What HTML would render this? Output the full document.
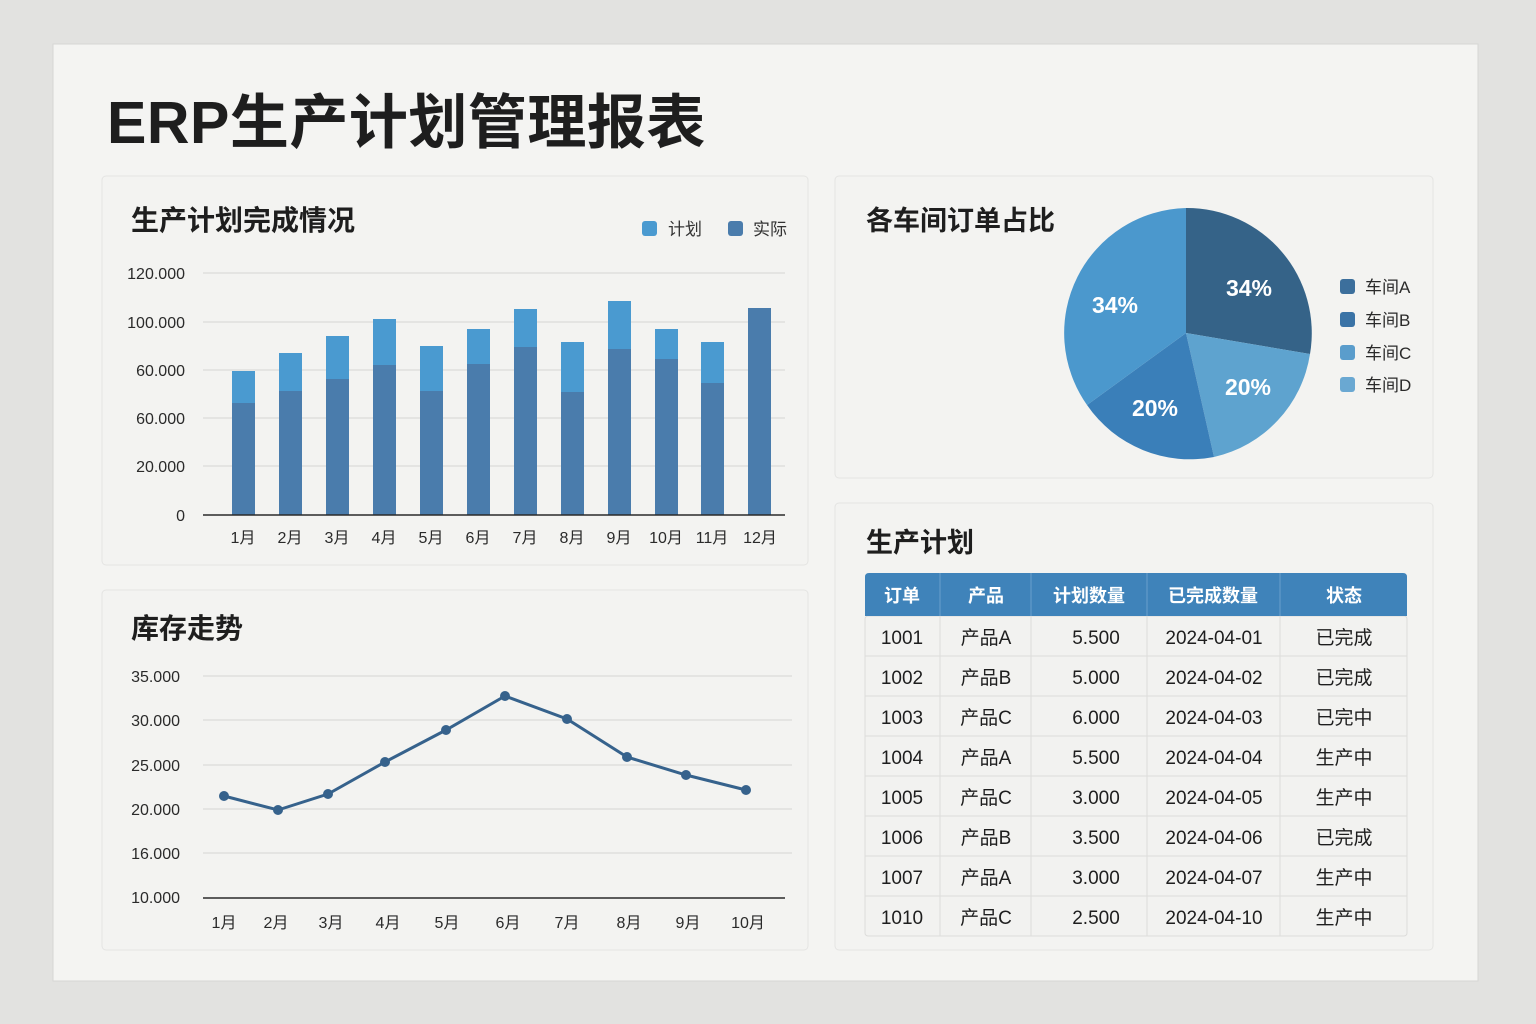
<!DOCTYPE html>
<html><head><meta charset="utf-8"><style>
html,body{margin:0;padding:0;background:#e2e2e0;}
svg{display:block;font-family:"Liberation Sans","Noto Sans CJK SC",sans-serif;}
</style></head><body>
<svg width="1536" height="1024" viewBox="0 0 1536 1024" xmlns="http://www.w3.org/2000/svg">
<rect x="0" y="0" width="1536" height="1024" fill="#e2e2e0"/>
<rect x="53" y="44" width="1425" height="937" fill="#f4f4f2" stroke="#d6d6d4"/>
<text x="107" y="143" font-size="59" font-weight="bold" fill="#1e1e1e" letter-spacing="0.5">ERP生产计划管理报表</text>

<!-- panels -->
<rect x="102" y="176" width="706" height="389" rx="4" fill="#f3f3f1" stroke="#e4e4e2"/>
<rect x="102" y="590" width="706" height="360" rx="4" fill="#f3f3f1" stroke="#e4e4e2"/>
<rect x="835" y="176" width="598" height="302" rx="4" fill="#f3f3f1" stroke="#e4e4e2"/>
<rect x="835" y="503" width="598" height="447" rx="4" fill="#f3f3f1" stroke="#e4e4e2"/>

<!-- bar chart -->
<text x="131" y="230" font-size="28" font-weight="bold" fill="#1e1e1e">生产计划完成情况</text>
<rect x="642" y="221" width="15" height="15" rx="3" fill="#4a9ad0"/>
<text x="668" y="235" font-size="17" fill="#333">计划</text>
<rect x="728" y="221" width="15" height="15" rx="3" fill="#4a7cac"/>
<text x="753" y="235" font-size="17" fill="#333">实际</text>
<g stroke="#e0e0de" stroke-width="1.5">
<line x1="203" y1="273" x2="785" y2="273"/><line x1="203" y1="322" x2="785" y2="322"/>
<line x1="203" y1="370" x2="785" y2="370"/><line x1="203" y1="418" x2="785" y2="418"/>
<line x1="203" y1="466" x2="785" y2="466"/>
</g>
<g font-size="16" fill="#2a2a2a" text-anchor="end">
<text x="185" y="279">120.000</text><text x="185" y="328">100.000</text>
<text x="185" y="376">60.000</text><text x="185" y="424">60.000</text>
<text x="185" y="472">20.000</text><text x="185" y="521">0</text>
</g>
<g fill="#4a9ad0">
<rect x="232" y="371" width="23" height="144"/><rect x="279" y="353" width="23" height="162"/>
<rect x="326" y="336" width="23" height="179"/><rect x="373" y="319" width="23" height="196"/>
<rect x="420" y="346" width="23" height="169"/><rect x="467" y="329" width="23" height="186"/>
<rect x="514" y="309" width="23" height="206"/><rect x="561" y="342" width="23" height="173"/>
<rect x="608" y="301" width="23" height="214"/><rect x="655" y="329" width="23" height="186"/>
<rect x="701" y="342" width="23" height="173"/>
</g>
<g fill="#4a7cac">
<rect x="232" y="403" width="23" height="112"/><rect x="279" y="391" width="23" height="124"/>
<rect x="326" y="379" width="23" height="136"/><rect x="373" y="365" width="23" height="150"/>
<rect x="420" y="391" width="23" height="124"/><rect x="467" y="364" width="23" height="151"/>
<rect x="514" y="347" width="23" height="168"/><rect x="561" y="392" width="23" height="123"/>
<rect x="608" y="349" width="23" height="166"/><rect x="655" y="359" width="23" height="156"/>
<rect x="701" y="383" width="23" height="132"/><rect x="748" y="308" width="23" height="207"/>
</g>
<line x1="203" y1="515" x2="785" y2="515" stroke="#2a2a2a" stroke-width="1.5"/>
<g font-size="16" fill="#2a2a2a" text-anchor="middle">
<text x="243" y="543">1月</text><text x="290" y="543">2月</text><text x="337" y="543">3月</text>
<text x="384" y="543">4月</text><text x="431" y="543">5月</text><text x="478" y="543">6月</text>
<text x="525" y="543">7月</text><text x="572" y="543">8月</text><text x="619" y="543">9月</text>
<text x="666" y="543">10月</text><text x="712" y="543">11月</text><text x="760" y="543">12月</text>
</g>

<!-- line chart -->
<text x="131" y="638" font-size="28" font-weight="bold" fill="#1e1e1e">库存走势</text>
<g stroke="#e0e0de" stroke-width="1.5">
<line x1="203" y1="676" x2="792" y2="676"/><line x1="203" y1="720" x2="792" y2="720"/>
<line x1="203" y1="765" x2="792" y2="765"/><line x1="203" y1="809" x2="792" y2="809"/>
<line x1="203" y1="853" x2="792" y2="853"/>
</g>
<line x1="203" y1="898" x2="785" y2="898" stroke="#2a2a2a" stroke-width="1.5"/>
<g font-size="16" fill="#2a2a2a" text-anchor="end">
<text x="180" y="682">35.000</text><text x="180" y="726">30.000</text>
<text x="180" y="771">25.000</text><text x="180" y="815">20.000</text>
<text x="180" y="859">16.000</text><text x="180" y="903">10.000</text>
</g>
<polyline points="224,796 278,810 328,794 385,762 446,730 505,696 567,719 627,757 686,775 746,790" fill="none" stroke="#36628c" stroke-width="3"/>
<g fill="#36628c">
<circle cx="224" cy="796" r="5"/><circle cx="278" cy="810" r="5"/><circle cx="328" cy="794" r="5"/>
<circle cx="385" cy="762" r="5"/><circle cx="446" cy="730" r="5"/><circle cx="505" cy="696" r="5"/>
<circle cx="567" cy="719" r="5"/><circle cx="627" cy="757" r="5"/><circle cx="686" cy="775" r="5"/>
<circle cx="746" cy="790" r="5"/>
</g>
<g font-size="16" fill="#2a2a2a" text-anchor="middle">
<text x="224" y="928">1月</text><text x="276" y="928">2月</text><text x="331" y="928">3月</text>
<text x="388" y="928">4月</text><text x="447" y="928">5月</text><text x="508" y="928">6月</text>
<text x="567" y="928">7月</text><text x="629" y="928">8月</text><text x="688" y="928">9月</text>
<text x="748" y="928">10月</text>
</g>

<!-- pie -->
<text x="866" y="230" font-size="27" font-weight="bold" fill="#1e1e1e">各车间订单占比</text>
<path d="M1186,333 L1186,208 A125,125 0 0,1 1310,354 Z" fill="#356388"/>
<path d="M1186,333 L1310,354 A125,125 0 0,1 1214,457 Z" fill="#5ea3cf"/>
<path d="M1186,333 L1214,457 A125,125 0 0,1 1087,405 Z" fill="#3a7fb9"/>
<path d="M1186,333 L1087,405 A125,125 0 0,1 1186,208 Z" fill="#4b98cd"/>
<g font-size="23" font-weight="bold" fill="#fff" text-anchor="middle">
<text x="1249" y="296">34%</text><text x="1115" y="313">34%</text>
<text x="1248" y="395">20%</text><text x="1155" y="416">20%</text>
</g>
<rect x="1340" y="279" width="15" height="15" rx="3" fill="#3c6f9c"/>
<rect x="1340" y="312" width="15" height="15" rx="3" fill="#3a73a6"/>
<rect x="1340" y="345" width="15" height="15" rx="3" fill="#5a9dcc"/>
<rect x="1340" y="377" width="15" height="15" rx="3" fill="#6aa8d2"/>
<g font-size="17" fill="#2a2a2a">
<text x="1365" y="293">车间A</text><text x="1365" y="326">车间B</text>
<text x="1365" y="359">车间C</text><text x="1365" y="391">车间D</text>
</g>

<!-- table -->
<text x="866" y="552" font-size="27" font-weight="bold" fill="#1e1e1e">生产计划</text>
<rect x="865" y="616" width="542" height="320" rx="3" fill="#f2f2f0" stroke="#dcdcda"/>
<path d="M865,616 L865,577 Q865,573 869,573 L1403,573 Q1407,573 1407,577 L1407,616 Z" fill="#3f83ba"/>
<g stroke="#6a9fcc" stroke-width="1">
<line x1="940" y1="573" x2="940" y2="616"/><line x1="1031" y1="573" x2="1031" y2="616"/>
<line x1="1147" y1="573" x2="1147" y2="616"/><line x1="1280" y1="573" x2="1280" y2="616"/>
</g>
<g stroke="#dcdcda" stroke-width="1">
<line x1="940" y1="616" x2="940" y2="936"/><line x1="1031" y1="616" x2="1031" y2="936"/>
<line x1="1147" y1="616" x2="1147" y2="936"/><line x1="1280" y1="616" x2="1280" y2="936"/>
<line x1="865" y1="656" x2="1407" y2="656"/><line x1="865" y1="696" x2="1407" y2="696"/>
<line x1="865" y1="736" x2="1407" y2="736"/><line x1="865" y1="776" x2="1407" y2="776"/>
<line x1="865" y1="816" x2="1407" y2="816"/><line x1="865" y1="856" x2="1407" y2="856"/>
<line x1="865" y1="896" x2="1407" y2="896"/>
</g>
<g font-size="18" font-weight="bold" fill="#fff" text-anchor="middle">
<text x="902" y="602">订单</text><text x="986" y="602">产品</text><text x="1089" y="602">计划数量</text>
<text x="1213" y="602">已完成数量</text><text x="1344" y="602">状态</text>
</g>
<g font-size="19" fill="#1e1e1e" text-anchor="middle">
<text x="902" y="644">1001</text><text x="986" y="644">产品A</text><text x="1096" y="644">5.500</text><text x="1214" y="644">2024-04-01</text><text x="1344" y="644">已完成</text>
<text x="902" y="684">1002</text><text x="986" y="684">产品B</text><text x="1096" y="684">5.000</text><text x="1214" y="684">2024-04-02</text><text x="1344" y="684">已完成</text>
<text x="902" y="724">1003</text><text x="986" y="724">产品C</text><text x="1096" y="724">6.000</text><text x="1214" y="724">2024-04-03</text><text x="1344" y="724">已完中</text>
<text x="902" y="764">1004</text><text x="986" y="764">产品A</text><text x="1096" y="764">5.500</text><text x="1214" y="764">2024-04-04</text><text x="1344" y="764">生产中</text>
<text x="902" y="804">1005</text><text x="986" y="804">产品C</text><text x="1096" y="804">3.000</text><text x="1214" y="804">2024-04-05</text><text x="1344" y="804">生产中</text>
<text x="902" y="844">1006</text><text x="986" y="844">产品B</text><text x="1096" y="844">3.500</text><text x="1214" y="844">2024-04-06</text><text x="1344" y="844">已完成</text>
<text x="902" y="884">1007</text><text x="986" y="884">产品A</text><text x="1096" y="884">3.000</text><text x="1214" y="884">2024-04-07</text><text x="1344" y="884">生产中</text>
<text x="902" y="924">1010</text><text x="986" y="924">产品C</text><text x="1096" y="924">2.500</text><text x="1214" y="924">2024-04-10</text><text x="1344" y="924">生产中</text>
</g>
</svg>
</body></html>
